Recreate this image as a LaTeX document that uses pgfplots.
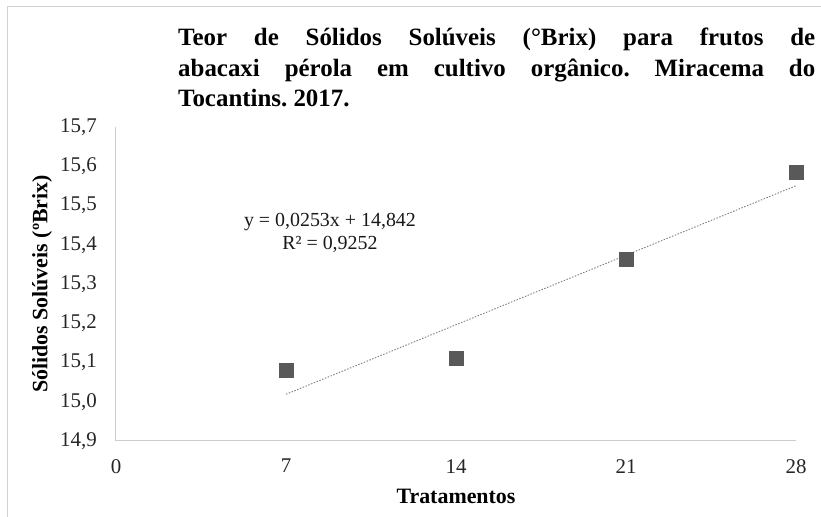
\documentclass[border=0pt]{standalone}
\usepackage{pgfplots}
\pgfplotsset{compat=1.18}
\usepackage{fontspec}
\setmainfont{Liberation Serif}
\frenchspacing
\begin{document}
\begin{tikzpicture}[x=1bp,y=1bp]
\begin{axis}[
  at={(0,0)}, anchor=south west,
  scale only axis, width=680bp, height=314bp,
  xmin=0, xmax=28, ymin=14.9, ymax=15.7,
  axis x line*=bottom, axis y line*=left,
  axis line style={draw=black!20, line width=1bp},
  xtick={0,7,14,21,28},
  ytick={14.9,15,15.1,15.2,15.3,15.4,15.5,15.6,15.7},
  major tick length=0,
  clip=false,
  /pgf/number format/assume math mode=true,
  tick label style={font=\fontsize{21}{24}\selectfont, text=black!85},
  y tick label style={/pgf/number format/.cd, fixed, fixed zerofill, precision=1, use comma, /tikz/.cd, inner sep=0pt, xshift=-19bp},
  x tick label style={inner sep=0pt, yshift=-18bp},
  xlabel={\textbf{Tratamentos}},
  ylabel={\textbf{Sólidos Solúveis (ºBrix)}},
  every axis x label/.style={at={(axis description cs:0.5,0)}, anchor=center, yshift=-55bp, font=\fontsize{22}{24}\selectfont},
  every axis y label/.style={at={(axis description cs:0,0.5)}, anchor=center, xshift=-74bp, rotate=90, font=\fontsize{22}{24}\selectfont},
]
\addplot[draw=black!50, line width=0.9bp, dash pattern=on 1.5bp off 1.5bp] coordinates {(7,15.0191) (28,15.5504)};
\addplot[only marks, mark=square*, mark size=7bp, mark options={fill=black!65, draw=black!65}] coordinates {(7,15.08) (14,15.11) (21,15.363) (28,15.585)};
\node[align=center, font=\fontsize{20}{23}\selectfont, text=black!90, inner sep=0pt] at (axis cs:8.81,15.43) {y = 0,0253x + 14,842\\R² = 0,9252};
\end{axis}
\draw[black!18, line width=1bp] (-108,-90) -- (-108,434) -- (720,434);
\node[anchor=north west, inner sep=0pt, text width=637bp, align=justify, font=\bfseries\fontsize{25}{30.5}\selectfont] at (62,413) {Teor de Sólidos Solúveis (°Brix) para frutos de\linebreak abacaxi pérola em cultivo orgânico. Miracema do\linebreak Tocantins. 2017.};
\pgfresetboundingbox
\path[use as bounding box] (-116,-76) rectangle (705,441);
\end{tikzpicture}
\end{document}
